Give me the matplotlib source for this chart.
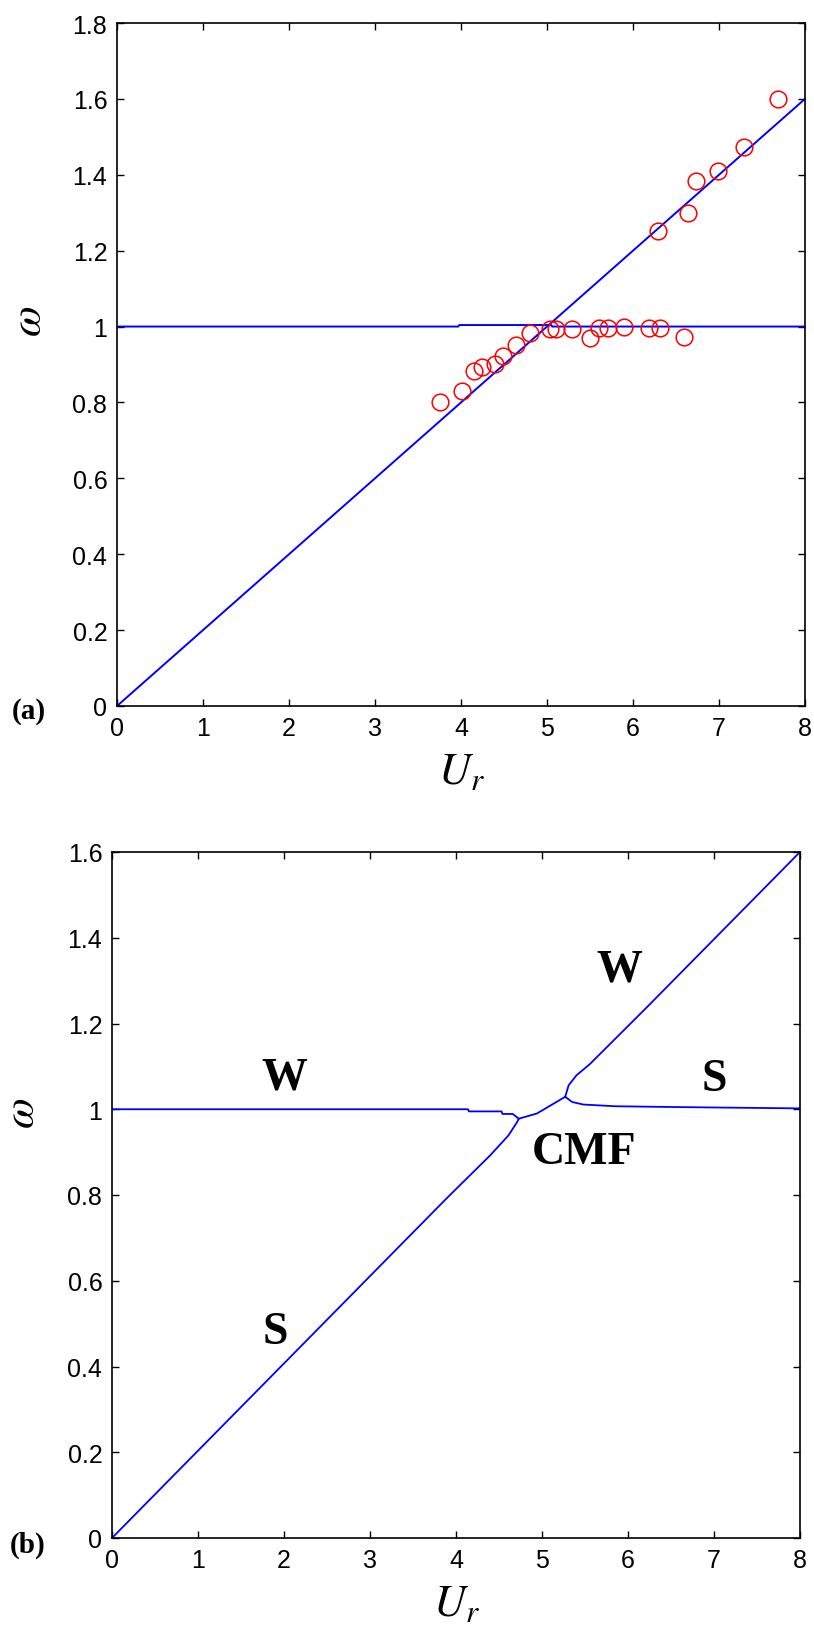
import matplotlib
matplotlib.use('Agg')
import matplotlib.pyplot as plt
from matplotlib.ticker import FuncFormatter, MultipleLocator

plt.rcParams['mathtext.fontset'] = 'stix'
plt.rcParams['font.family'] = ['Liberation Sans Narrow', 'Liberation Sans', 'DejaVu Sans']

# (a) measured frequencies (circles)
ur_meas = [3.75, 4.01, 4.15, 4.24, 4.40, 4.49, 4.64, 4.80, 5.03, 5.10, 5.29,
           5.50, 5.60, 5.71, 5.90, 6.19, 6.31, 6.59, 6.29, 6.64, 6.73, 6.99,
           7.29, 7.69]
w_meas = [0.800, 0.831, 0.882, 0.893, 0.901, 0.923, 0.952, 0.982, 0.994, 0.994,
          0.994, 0.971, 0.995, 0.995, 1.000, 0.995, 0.995, 0.973, 1.251, 1.299,
          1.383, 1.411, 1.474, 1.600]

# (a) model branches
ur_struct = [0.0, 8.0]
w_struct = [0.0, 1.6]
ur_wake = [0.0, 3.97, 3.98, 5.05, 5.06, 8.0]
w_wake = [1.0, 1.0, 1.004, 1.004, 1.0, 1.0]

# (b) coupled branches
ur_wake_left = [0.0, 3.12, 4.14, 4.15, 4.53, 4.54, 4.66, 4.73]
w_wake_left = [1.0, 1.0, 1.0, 0.995, 0.995, 0.989, 0.989, 0.978]
ur_struct_low = [0.0, 3.89, 4.40, 4.61, 4.71, 4.73]
w_struct_low = [0.0, 0.792, 0.893, 0.939, 0.970, 0.978]
ur_cmf = [4.73, 4.94, 5.27]
w_cmf = [0.978, 0.99, 1.029]
ur_wake_up = [5.27, 5.31, 5.40, 5.56, 6.22, 8.0]
w_wake_up = [1.029, 1.056, 1.079, 1.106, 1.238, 1.6]
ur_struct_right = [5.27, 5.35, 5.48, 5.85, 6.60, 8.0]
w_struct_right = [1.029, 1.017, 1.011, 1.007, 1.005, 1.002]

# branch names written on (b)
mode_labels = ['W', 'S', 'W', 'S', 'CMF']
mode_ur = [2.0, 1.9, 5.9, 7.0, 5.49]
mode_w = [1.075, 0.48, 1.325, 1.07, 0.90]

fig = plt.figure(figsize=(8.14, 16.31), dpi=100)
ax_a = fig.add_axes([117 / 814, 1 - 707 / 1631, 688 / 814, 683 / 1631])
ax_b = fig.add_axes([112 / 814, 1 - 1539 / 1631, 688 / 814, 686 / 1631])

fmt = FuncFormatter(lambda v, p: '%g' % round(v, 2))

ax_a.plot(ur_struct, w_struct, color='blue', lw=1.4)
ax_a.plot(ur_wake, w_wake, color='blue', lw=1.4)
ax_a.plot(ur_meas, w_meas, 'o', mfc='none', mec='red', ms=12, mew=1.1)
ax_a.set_ylim(0, 1.8)

for ur, w in [(ur_wake_left, w_wake_left), (ur_struct_low, w_struct_low),
              (ur_cmf, w_cmf), (ur_wake_up, w_wake_up),
              (ur_struct_right, w_struct_right)]:
    ax_b.plot(ur, w, color='blue', lw=1.3)
for txt, x, y in zip(mode_labels, mode_ur, mode_w):
    ax_b.text(x, y, txt, ha='center', va='center', fontsize=33,
              fontweight='bold', family='Liberation Serif')
ax_b.set_ylim(0, 1.6)

for ax, lx, ly in [(ax_a, -0.097, 0.565), (ax_b, -0.1, 0.62)]:
    ax.set_xlim(0, 8)
    ax.xaxis.set_major_locator(MultipleLocator(1))
    ax.yaxis.set_major_locator(MultipleLocator(0.2))
    ax.yaxis.set_major_formatter(fmt)
    ax.tick_params(direction='in', top=True, right=True, length=5, width=1,
                   labelsize=18, pad=7)
    for s in ax.spines.values():
        s.set_linewidth(1.2)
    ax.set_ylabel(r'$\omega$', fontsize=32)
    ax.yaxis.set_label_coords(lx, ly)
    ax.set_xlabel(r'$U_r$', fontsize=32)
    ax.xaxis.set_label_coords(0.5, -0.066)

fig.text(12 / 814, 1 - 712 / 1631, '(a)', ha='left', va='center', fontsize=21,
         fontweight='bold', family='Liberation Serif')
fig.text(10 / 814, 1 - 1545 / 1631, '(b)', ha='left', va='center', fontsize=21,
         fontweight='bold', family='Liberation Serif')

fig.savefig('out.png', dpi=100)
